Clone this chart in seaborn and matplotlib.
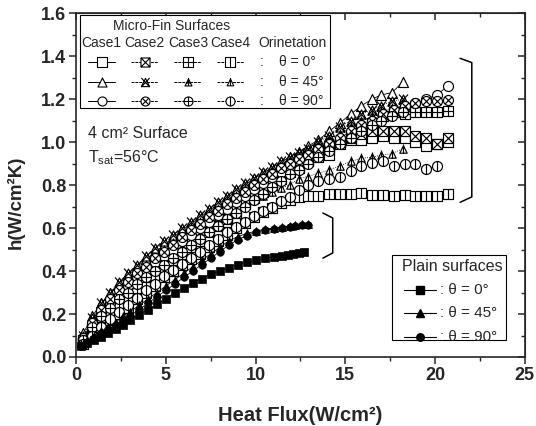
import matplotlib
matplotlib.use("Agg")
import matplotlib.pyplot as plt
from matplotlib.path import Path
from matplotlib.patches import Rectangle
from matplotlib.ticker import MultipleLocator
import seaborn as sns

# heat flux (W/cm2) at which each run was sampled
flux_45 = [0.4, 0.9, 1.4, 1.9, 2.4, 2.9, 3.4, 3.9, 4.4, 4.9, 5.4, 5.9, 6.4, 6.9, 7.4, 7.9, 8.4, 8.9,
           9.4, 9.9, 10.4, 10.9, 11.4, 11.9, 12.4, 12.9, 13.5, 14.1, 14.7, 15.3, 15.9, 16.5, 17.0, 17.6, 18.2]
flux_long = [0.4, 0.9, 1.4, 1.9, 2.4, 2.9, 3.4, 3.9, 4.4, 4.9, 5.4, 5.9, 6.4, 6.9, 7.4, 7.9, 8.4, 8.9,
             9.4, 9.9, 10.4, 10.9, 11.4, 11.9, 12.4, 12.9, 13.5, 14.1, 14.7, 15.3, 15.9, 16.5, 17.1, 17.7,
             18.3, 18.9, 19.5, 20.1, 20.7]
flux_plain0 = [0.3, 0.6, 1.0, 1.4, 1.8, 2.2, 2.6, 3.0, 3.5, 4.0, 4.5, 5.0, 5.5, 6.0, 6.5, 7.0, 7.5, 8.0,
               8.5, 9.0, 9.5, 10.0, 10.5, 11.0, 11.5, 11.8, 12.1, 12.4, 12.7]
flux_plain = [0.3, 0.6, 1.0, 1.4, 1.8, 2.2, 2.6, 3.0, 3.5, 4.0, 4.5, 5.0, 5.5, 6.0, 6.5, 7.0, 7.5, 8.0,
              8.5, 9.0, 9.5, 10.0, 10.5, 11.0, 11.5, 11.9, 12.2, 12.6, 12.9]

# micro-fin surfaces, h (W/cm2K)
case1_0 = [0.07, 0.12, 0.16, 0.20, 0.23, 0.26, 0.29, 0.32, 0.36, 0.39, 0.43, 0.46, 0.49, 0.52, 0.56, 0.59,
           0.63, 0.67, 0.71, 0.75, 0.78, 0.81, 0.85, 0.88, 0.89, 0.91, 0.93, 0.94, 0.99, 1.01, 1.01, 1.02,
           1.03, 1.02, 1.02, 1.00, 0.98, 0.99, 1.00]
case2_0 = [0.08, 0.14, 0.19, 0.23, 0.27, 0.31, 0.34, 0.38, 0.41, 0.45, 0.48, 0.52, 0.55, 0.58, 0.62, 0.65,
           0.68, 0.72, 0.75, 0.78, 0.81, 0.84, 0.87, 0.89, 0.92, 0.94, 0.96, 0.98, 1.00, 1.02, 1.04, 1.05,
           1.05, 1.05, 1.05, 1.03, 1.02, 0.99, 1.02]
case3_0 = [0.07, 0.12, 0.17, 0.21, 0.25, 0.28, 0.32, 0.35, 0.38, 0.42, 0.45, 0.48, 0.51, 0.54, 0.58, 0.61,
           0.64, 0.68, 0.71, 0.74, 0.77, 0.80, 0.83, 0.86, 0.88, 0.91, 0.94, 0.97, 1.00, 1.03, 1.06, 1.09,
           1.12, 1.14, 1.13, 1.14, 1.14, 1.14, 1.145]
case4_0 = [0.06, 0.10, 0.14, 0.17, 0.20, 0.23, 0.27, 0.30, 0.33, 0.37, 0.40, 0.43, 0.455, 0.48, 0.51, 0.54,
           0.57, 0.60, 0.625, 0.65, 0.675, 0.695, 0.715, 0.73, 0.745, 0.75, 0.75, 0.76, 0.76, 0.76, 0.765,
           0.755, 0.755, 0.75, 0.755, 0.75, 0.75, 0.75, 0.76]

case1_45 = [0.11, 0.19, 0.25, 0.30, 0.34, 0.38, 0.42, 0.455, 0.49, 0.52, 0.555, 0.59, 0.62, 0.65, 0.68,
            0.71, 0.74, 0.77, 0.80, 0.83, 0.855, 0.88, 0.905, 0.93, 0.955, 0.98, 1.01, 1.05, 1.09, 1.13,
            1.17, 1.20, 1.22, 1.23, 1.28]
case2_45 = [0.10, 0.18, 0.25, 0.30, 0.35, 0.39, 0.43, 0.47, 0.505, 0.54, 0.57, 0.60, 0.63, 0.66, 0.69,
            0.72, 0.75, 0.78, 0.81, 0.835, 0.86, 0.885, 0.91, 0.93, 0.95, 0.97, 1.00, 1.03, 1.07, 1.10,
            1.13, 1.15, 1.17, 1.19, 1.20]
case3_45 = [0.09, 0.16, 0.22, 0.27, 0.31, 0.35, 0.39, 0.43, 0.46, 0.50, 0.53, 0.56, 0.60, 0.63, 0.66,
            0.69, 0.72, 0.75, 0.78, 0.81, 0.83, 0.86, 0.88, 0.91, 0.93, 0.95, 0.98, 1.01, 1.04, 1.07,
            1.10, 1.12, 1.14, 1.16, 1.18]
case4_45 = [0.08, 0.14, 0.19, 0.23, 0.27, 0.31, 0.35, 0.38, 0.42, 0.45, 0.48, 0.51, 0.54, 0.57, 0.60,
            0.63, 0.655, 0.68, 0.705, 0.73, 0.75, 0.77, 0.785, 0.80, 0.83, 0.84, 0.855, 0.87, 0.89, 0.91,
            0.925, 0.93, 0.94, 0.945, 0.97]

case1_90 = [0.09, 0.15, 0.21, 0.25, 0.29, 0.33, 0.37, 0.40, 0.44, 0.47, 0.50, 0.54, 0.57, 0.60, 0.63, 0.66,
            0.69, 0.72, 0.75, 0.78, 0.81, 0.84, 0.86, 0.89, 0.91, 0.93, 0.95, 0.97, 1.00, 1.03, 1.06, 1.09,
            1.12, 1.14, 1.16, 1.18, 1.20, 1.22, 1.26]
case2_90 = [0.09, 0.16, 0.22, 0.27, 0.31, 0.35, 0.39, 0.42, 0.46, 0.49, 0.52, 0.56, 0.59, 0.62, 0.65, 0.68,
            0.71, 0.74, 0.77, 0.80, 0.83, 0.85, 0.88, 0.90, 0.92, 0.94, 0.97, 0.99, 1.02, 1.05, 1.08, 1.10,
            1.13, 1.15, 1.17, 1.18, 1.19, 1.19, 1.195]
case3_90 = [0.08, 0.14, 0.19, 0.23, 0.27, 0.30, 0.34, 0.37, 0.40, 0.43, 0.46, 0.49, 0.52, 0.55, 0.58,
            0.61, 0.64, 0.67, 0.70, 0.73, 0.76, 0.79, 0.82, 0.85, 0.87, 0.90, 0.93, 0.96, 0.99, 1.02,
            1.05, 1.08, 1.10, 1.12, 1.14]
case4_90 = [0.06, 0.10, 0.14, 0.175, 0.21, 0.24, 0.275, 0.31, 0.34, 0.375, 0.405, 0.435, 0.46, 0.49, 0.52,
            0.55, 0.58, 0.605, 0.63, 0.655, 0.68, 0.70, 0.725, 0.745, 0.775, 0.80, 0.82, 0.83, 0.84, 0.865,
            0.89, 0.905, 0.91, 0.89, 0.90, 0.90, 0.875, 0.89]

# plain surfaces
plain_0 = [0.05, 0.065, 0.08, 0.095, 0.11, 0.13, 0.15, 0.17, 0.195, 0.22, 0.245, 0.27, 0.30, 0.32, 0.345,
           0.365, 0.385, 0.40, 0.415, 0.43, 0.44, 0.45, 0.46, 0.465, 0.47, 0.475, 0.48, 0.485, 0.49]
plain_45 = [0.06, 0.08, 0.10, 0.12, 0.14, 0.16, 0.19, 0.21, 0.24, 0.27, 0.30, 0.33, 0.36, 0.39, 0.42,
            0.45, 0.48, 0.51, 0.54, 0.56, 0.575, 0.585, 0.595, 0.60, 0.605, 0.61, 0.615, 0.62, 0.62]
plain_90 = [0.05, 0.07, 0.09, 0.11, 0.13, 0.15, 0.17, 0.19, 0.22, 0.25, 0.28, 0.31, 0.34, 0.37, 0.40,
            0.43, 0.46, 0.49, 0.52, 0.545, 0.565, 0.58, 0.59, 0.595, 0.60, 0.605, 0.61, 0.612, 0.615]

orient_labels = ["\u03b8 = 0\u00b0", "\u03b8 = 45\u00b0", "\u03b8 = 90\u00b0"]
case_labels = ["Case1", "Case2", "Case3", "Case4"]

sns.set_style("ticks")
plt.rcParams['font.family'] = ['Liberation Sans', 'DejaVu Sans']
plt.rcParams['mathtext.default'] = 'regular'

MV, LN, CL = Path.MOVETO, Path.LINETO, Path.CLOSEPOLY


#build the open marker with its inner decoration (x, + or |)
def make_marker(shape, inner):
    if shape == 's':
        base = Path([(-1, -1), (1, -1), (1, 1), (-1, 1), (-1, -1)], [MV, LN, LN, LN, CL])
        segs = {'x': [((-1, -1), (1, 1)), ((-1, 1), (1, -1))],
                '+': [((0, -1), (0, 1)), ((-1, 0), (1, 0))],
                '|': [((0, -1), (0, 1))]}
    elif shape == '^':
        base = Path([(0, 1), (-1, -1), (1, -1), (0, 1)], [MV, LN, LN, CL])
        segs = {'x': [((-1, -1.1), (1, 1.1)), ((-1, 1.1), (1, -1.1))],
                '+': [((0, -1), (0, 1.3)), ((-0.55, -0.15), (0.55, -0.15))],
                '|': [((0, -1), (0, 1.35))]}
    else:
        base = Path.unit_circle()
        segs = {'x': [((-0.71, -0.71), (0.71, 0.71)), ((-0.71, 0.71), (0.71, -0.71))],
                '+': [((0, -1), (0, 1)), ((-1, 0), (1, 0))],
                '|': [((0, -1), (0, 1))]}
    if inner is None:
        return base
    verts, codes = [], []
    for a, b in segs[inner]:
        verts += [a, b]
        codes += [MV, LN]
    return Path.make_compound_path(base, Path(verts, codes))


inners = [None, 'x', '+', '|']
fin_series = [
    ('s', [case1_0, case2_0, case3_0, case4_0], [flux_long] * 4),
    ('^', [case1_45, case2_45, case3_45, case4_45], [flux_45] * 4),
    ('o', [case1_90, case2_90, case3_90, case4_90], [flux_long, flux_long, flux_45, flux_long[:38]]),
]

fig = plt.figure(figsize=(5.36, 4.26), dpi=100)
ax = fig.add_axes([0.142, 0.162, 0.837, 0.807])

for shape, ys, xs in fin_series:
    for k in range(4):
        sns.lineplot(x=xs[k], y=ys[k], ax=ax, color='black', lw=0.6,
                     ls='-' if k == 0 else (0, (1, 1.5)), errorbar=None,
                     marker=make_marker(shape, inners[k]), markersize=7.2,
                     mfc='white', mec='black', mew=0.85)

for ys, xs, mk in [(plain_0, flux_plain0, 's'), (plain_45, flux_plain, '^'), (plain_90, flux_plain, 'o')]:
    sns.lineplot(x=xs, y=ys, ax=ax, color='black', lw=0.6, errorbar=None,
                 marker=mk, markersize=5.4, mfc='black', mec='black', mew=0.5)

ax.set_xlim(0, 25)
ax.set_ylim(0, 1.6)
ax.xaxis.set_major_locator(MultipleLocator(5))
ax.xaxis.set_minor_locator(MultipleLocator(2.5))
ax.yaxis.set_major_locator(MultipleLocator(0.2))
ax.yaxis.set_minor_locator(MultipleLocator(0.1))
ax.yaxis.set_major_formatter(matplotlib.ticker.FormatStrFormatter('%.1f'))
ax.tick_params(which='major', direction='out', length=5, width=1.1, labelsize=13, pad=2)
ax.tick_params(which='minor', direction='out', length=3, width=1.0)
for lab in ax.get_xticklabels() + ax.get_yticklabels():
    lab.set_fontweight('bold')
for sp in ax.spines.values():
    sp.set_visible(True)
    sp.set_linewidth(1.2)

# mirrored ticks pointing inward on top and right
top = ax.secondary_xaxis('top')
right = ax.secondary_yaxis('right')
for sec, axis in [(top, top.xaxis), (right, right.yaxis)]:
    axis.set_major_locator(MultipleLocator(5 if sec is top else 0.2))
    axis.set_minor_locator(MultipleLocator(2.5 if sec is top else 0.1))
    sec.tick_params(which='major', direction='in', length=5, width=1.1, labelsize=0)
    sec.tick_params(which='minor', direction='in', length=3, width=1.0)
    sec.set_xticklabels([]) if sec is top else sec.set_yticklabels([])

ax.set_xlabel('Heat Flux(W/cm\u00b2)', fontsize=14.5, fontweight='bold')
ax.set_ylabel('h(W/cm\u00b2K)', fontsize=13.5, fontweight='bold')
ax.xaxis.set_label_coords(0.499, -0.143)
ax.yaxis.set_label_coords(-0.114, 0.45)

# micro-fin legend box
ax.add_patch(Rectangle((0.009, 0.724), 0.557, 0.27, transform=ax.transAxes, fill=True,
                       facecolor='white', edgecolor='black', lw=0.8, zorder=5))
ax.text(0.213, 0.962, 'Micro-Fin Surfaces', transform=ax.transAxes, ha='center', va='center',
        fontsize=10, zorder=6)
case_x = [0.057, 0.153, 0.249, 0.344]
for cx, lab in zip(case_x, case_labels):
    ax.text(cx, 0.912, lab, transform=ax.transAxes, ha='center', va='center', fontsize=10, zorder=6)
ax.text(0.483, 0.912, 'Orinetation', transform=ax.transAxes, ha='center', va='center',
        fontsize=10, zorder=6)
row_y = [0.857, 0.800, 0.746]
for (shape, _, _), ry, olab in zip(fin_series, row_y, orient_labels):
    for k, cx in enumerate(case_x):
        ax.plot([cx - 0.03, cx + 0.03], [ry, ry], transform=ax.transAxes, color='black',
                lw=0.7, ls='-' if k == 0 else (0, (3, 1)), zorder=6)
        ax.plot([cx], [ry], transform=ax.transAxes, marker=make_marker(shape, inners[k]),
                markersize=6.5, mfc='white', mec='black', mew=0.8, ls='none', zorder=7)
    ax.text(0.414, ry, ':', transform=ax.transAxes, ha='center', va='center', fontsize=10, zorder=6)
    ax.text(0.452, ry, olab, transform=ax.transAxes, ha='left', va='center', fontsize=10, zorder=6)

# plain legend box
ax.add_patch(Rectangle((0.703, 0.049), 0.256, 0.248, transform=ax.transAxes, fill=True,
                       facecolor='white', edgecolor='black', lw=0.8, zorder=5))
ax.text(0.838, 0.262, 'Plain surfaces', transform=ax.transAxes, ha='center', va='center',
        fontsize=11.5, zorder=6)
for mk, ry, olab in zip(['s', '^', 'o'], [0.195, 0.128, 0.059], orient_labels):
    ax.plot([0.731, 0.803], [ry, ry], transform=ax.transAxes, color='black', lw=0.8, zorder=6)
    ax.plot([0.767], [ry], transform=ax.transAxes, marker=mk, markersize=5.4, color='black',
            ls='none', zorder=7)
    ax.text(0.812, ry, ': ' + olab, transform=ax.transAxes, ha='left', va='center', fontsize=11, zorder=6)

ax.text(0.027, 0.651, '4 cm\u00b2 Surface', transform=ax.transAxes, ha='left', va='center', fontsize=11.5)
ax.text(0.027, 0.581, 'T$_{sat}$=56\u00b0C', transform=ax.transAxes, ha='left', va='center', fontsize=11.5)

# brackets grouping the curves
ax.plot([21.4, 22.05, 22.05, 21.4], [1.39, 1.37, 0.745, 0.72], color='black', lw=1.1)
ax.plot([13.75, 14.3, 14.3, 13.75], [0.67, 0.647, 0.484, 0.46], color='black', lw=1.1)

fig.savefig('out.png', dpi=100)
